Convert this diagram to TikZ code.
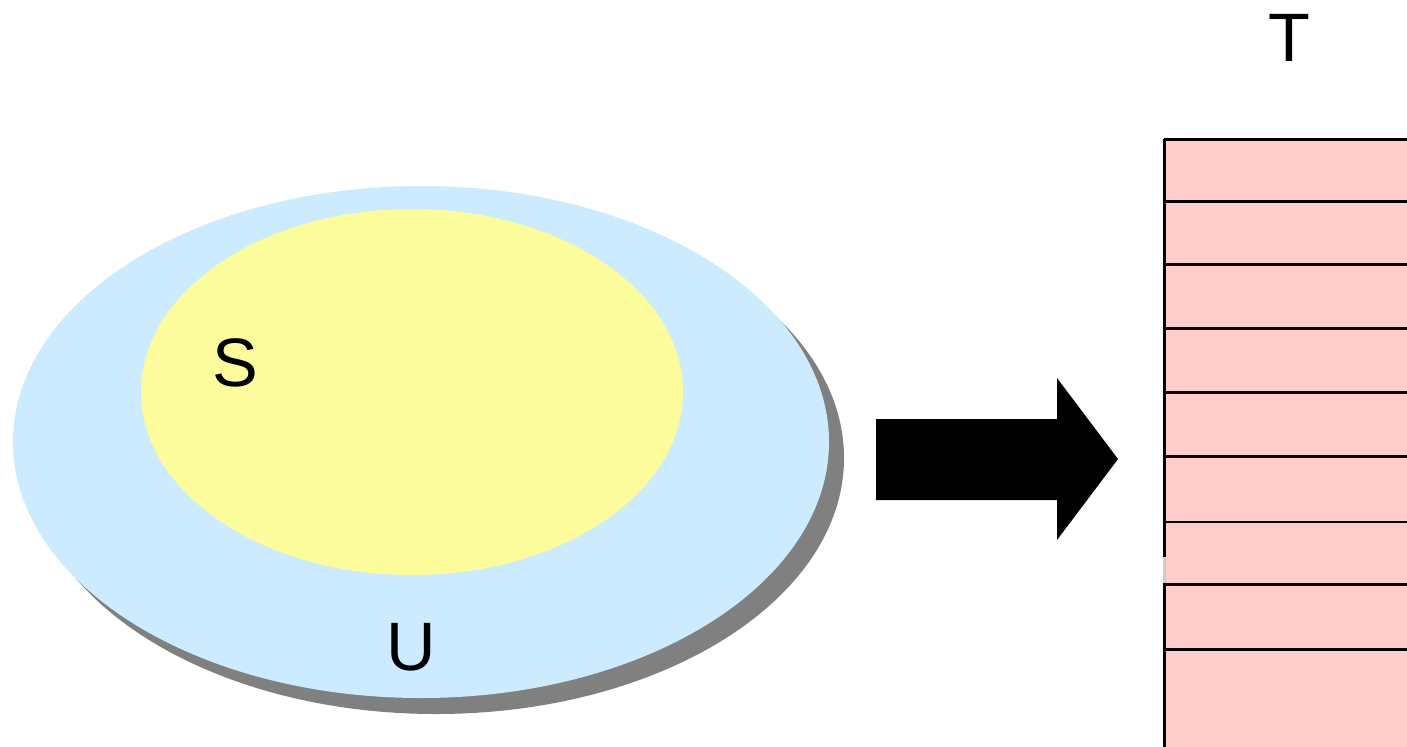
\documentclass[tikz,border=0pt]{standalone}
\usepackage{fontspec}
\setmainfont{Liberation Sans}
\begin{document}
\begin{tikzpicture}[x=0.1mm,y=-0.1mm,
  label/.style={inner sep=0pt,font=\fontsize{19.5}{22}\selectfont},
  rowline/.style={line width=0.85pt,draw=black},
  thinline/.style={line width=0.4pt,draw=black}]
\definecolor{universe}{HTML}{CCEBFF}
\definecolor{subset}{HTML}{FCFC9C}
\definecolor{shadowgray}{HTML}{808080}
\definecolor{cell}{HTML}{FFCCCC}
\useasboundingbox (0,0) rectangle (1407,746);
\clip (0,0) rectangle (1407,746);
\fill[white] (0,0) rectangle (1407,746);

% universe U with drop shadow, subset S inside
\fill[shadowgray] (436,458) ellipse [x radius=408,y radius=256];
\fill[universe] (421,442) ellipse [x radius=408,y radius=256];
\fill[subset] (412,392) ellipse [x radius=271,y radius=183];
\node[label] (S) at (235,363) {S};
\node[label] (U) at (411,647) {U};

% block arrow
\fill[black] (876,419) -- (1057,419) -- (1057,378) -- (1118,459)
  -- (1057,540) -- (1057,500) -- (876,500) -- cycle;

% table T
\node[label] (T) at (1289,38) {T};
\fill[cell] (1164,139) rectangle (1420,760);
\foreach \y in {139,201,264,328,392,456,584,649}
  \draw[rowline] (1164,\y) -- (1420,\y);
\draw[thinline] (1164,522) -- (1420,522);
\draw[rowline] (1164,139) -- (1164,557);
\draw[line width=0.85pt,draw=black!20] (1164,557) -- (1164,583);
\draw[rowline] (1164,583) -- (1164,760);
\end{tikzpicture}
\end{document}
